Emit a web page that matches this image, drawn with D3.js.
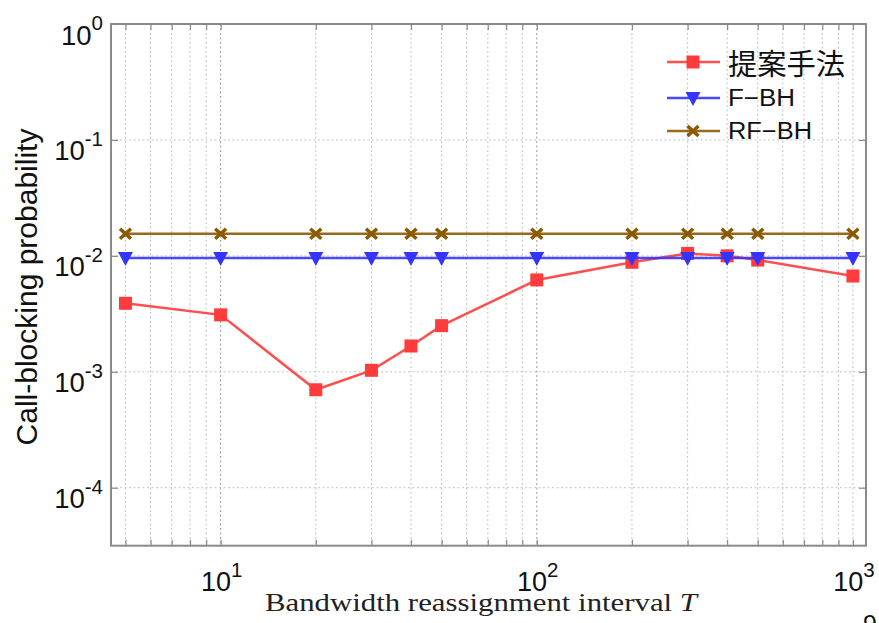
<!DOCTYPE html>
<html>
<head>
<meta charset="utf-8">
<script src="https://cdn.jsdelivr.net/npm/d3@7"></script>
<style>
  html, body { margin: 0; padding: 0; background: #fff; }
  svg { display: block; }
</style>
</head>
<body>
<svg id="chart" width="879" height="623"></svg>
<script>
// ---------------- data ----------------
const intervals = [5, 10, 20, 30, 40, 50, 100, 200, 300, 400, 500, 1000];
const proposed  = [0.0039, 0.0031, 0.00070, 0.00103, 0.00167, 0.0025, 0.0062, 0.0088, 0.0105, 0.0100, 0.0092, 0.0067];
const fbh       = [0.0096, 0.0096, 0.0096, 0.0096, 0.0096, 0.0096, 0.0096, 0.0096, 0.0096, 0.0096, 0.0096, 0.0096];
const rfbh      = [0.0155, 0.0155, 0.0155, 0.0155, 0.0155, 0.0155, 0.0155, 0.0155, 0.0155, 0.0155, 0.0155, 0.0155];
const seriesNames = ["提案手法", "F\u2212BH", "RF\u2212BH"];
const xTickExps = [1, 2, 3];
const yTickExps = [0, -1, -2, -3, -4];
const xLabel = "Bandwidth reassignment interval ";
const xLabelVar = "T";
const yLabel = "Call-blocking probability";

// ---------------- layout ----------------
const L = 111, R = 866, T = 24, B = 545.7;
const svg = d3.select("#chart");
const x = d3.scaleLog().domain([4.5, 1100]).range([L, R]);
const y = d3.scaleLog().domain([Math.pow(10, -4.5), 1]).range([B, T]);

const sans = "Liberation Sans, Arial, Helvetica, sans-serif";
const gridColor = "#c2c2c2";
const axisColor = "#8a8a8a";

// x ticks (major + minor)
const xTicks = [];
[1, 10, 100, 1000].forEach(d => { for (let k = 1; k < 10; k++) { const v = d * k; if (v >= 4.5 && v <= 1100) xTicks.push(v); } });
const yMajor = yTickExps.map(e => Math.pow(10, e));

// grid
const grid = svg.append("g");
grid.selectAll("line.vx").data(xTicks).enter().append("line")
  .attr("x1", d => x(d)).attr("x2", d => x(d)).attr("y1", T).attr("y2", B)
  .attr("stroke", d => [10, 100].includes(d) ? "#9a9a9a" : gridColor)
  .attr("stroke-width", 1).attr("stroke-dasharray", "2,2.5");
grid.selectAll("line.hy").data(yMajor).enter().append("line")
  .attr("x1", L).attr("x2", R).attr("y1", d => y(d)).attr("y2", d => y(d))
  .attr("stroke", gridColor).attr("stroke-width", 1).attr("stroke-dasharray", "2,2.5");

// axes via d3 (inward ticks, no labels)
const axB = d3.axisBottom(x).tickValues(xTicks).tickSize(-6).tickFormat("");
const axT = d3.axisTop(x).tickValues(xTicks).tickSize(-6).tickFormat("");
const axL = d3.axisLeft(y).tickValues(yMajor).tickSize(-7).tickFormat("");
const axR = d3.axisRight(y).tickValues(yMajor).tickSize(-7).tickFormat("");
[[axB, `translate(0,${B})`], [axT, `translate(0,${T})`], [axL, `translate(${L},0)`], [axR, `translate(${R},0)`]].forEach(([ax, tr]) => {
  const g = svg.append("g").attr("transform", tr).call(ax);
  g.select(".domain").remove();
  g.selectAll(".tick line").attr("stroke", axisColor).attr("stroke-width", 1.2);
});
svg.append("rect").attr("x", L).attr("y", T).attr("width", R - L).attr("height", B - T)
  .attr("fill", "none").attr("stroke", axisColor).attr("stroke-width", 2);

// y tick labels
const yl = svg.append("g");
yTickExps.forEach(e => {
  const t = yl.append("text").attr("x", 103).attr("y", y(Math.pow(10, e)) + 20.5)
    .attr("text-anchor", "end").attr("font-family", sans).attr("font-size", 27.5).attr("fill", "#111");
  t.append("tspan").text("10");
  t.append("tspan").attr("dy", -14.5).attr("font-size", 20.5).text(e === 0 ? "0" : "-" + Math.abs(e));
});
// x tick labels
xTickExps.forEach(e => {
  const t = svg.append("text").attr("x", x(Math.pow(10, e)) + 1).attr("y", 591)
    .attr("text-anchor", "middle").attr("font-family", sans).attr("font-size", 27).attr("fill", "#111");
  t.append("tspan").text("10");
  t.append("tspan").attr("dy", -14).attr("font-size", 20.5).text(String(e));
});

// axis titles
const xl = svg.append("text").attr("x", 265).attr("y", 611)
  .attr("font-family", "Liberation Serif, Times New Roman, serif").attr("font-size", 25.5).attr("fill", "#222")
  .attr("textLength", 432).attr("lengthAdjust", "spacingAndGlyphs");
xl.append("tspan").text(xLabel);
xl.append("tspan").attr("font-style", "italic").text(xLabelVar);

svg.append("text").attr("transform", "translate(37,287) rotate(-90)")
  .attr("text-anchor", "middle").attr("font-family", sans).attr("font-size", 30).attr("fill", "#111")
  .text(yLabel);

// partial page number at bottom-right
svg.append("text").attr("x", 870).attr("y", 633).attr("text-anchor", "middle")
  .attr("font-family", sans).attr("font-size", 25).attr("fill", "#111").text("9");

// ---------------- series ----------------
const series = [
  { name: seriesNames[0], values: proposed, color: "#ff3b3b", marker: "square" },
  { name: seriesNames[1], values: fbh, color: "#3434ff", marker: "tri" },
  { name: seriesNames[2], values: rfbh, color: "#8b5a00", marker: "cross" }
];
const line = d3.line().x(d => x(d[0])).y(d => y(d[1]));

function drawMarker(g, kind, color) {
  if (kind === "square") {
    g.append("rect").attr("x", -6.5).attr("y", -6.5).attr("width", 13).attr("height", 13).attr("fill", color);
  } else if (kind === "tri") {
    g.append("path").attr("d", "M-7.5,-6 L7.5,-6 L0,8 Z").attr("fill", color);
  } else {
    g.append("path").attr("d", "M-5.5,-5 L5.5,5 M-5.5,5 L5.5,-5").attr("stroke", color)
      .attr("stroke-width", 3.5).attr("fill", "none");
  }
}

series.forEach(s => {
  const pts = intervals.map((v, i) => [v, s.values[i]]);
  svg.append("path").datum(pts).attr("d", line).attr("fill", "none")
    .attr("stroke", s.color).attr("stroke-width", 2.5).attr("stroke-opacity", 0.9);
  pts.forEach(p => {
    const g = svg.append("g").attr("transform", `translate(${x(p[0])},${y(p[1])})`);
    drawMarker(g, s.marker, s.color);
  });
});

// ---------------- legend ----------------
const legRows = [62, 98, 131];
const legBase = [75, 106, 139];
series.forEach((s, i) => {
  const ly = legRows[i];
  svg.append("line").attr("x1", 667).attr("x2", 720).attr("y1", ly).attr("y2", ly)
    .attr("stroke", s.color).attr("stroke-width", 2.5).attr("stroke-opacity", 0.9);
  const g = svg.append("g").attr("transform", `translate(693,${ly})`);
  drawMarker(g, s.marker, s.color);
  svg.append("text").attr("x", 728).attr("y", legBase[i])
    .attr("font-family", i === 0 ? "Noto Sans CJK JP, sans-serif" : sans)
    .attr("font-size", i === 0 ? 29 : 23.5).attr("fill", "#111")
    .attr("textLength", i === 0 ? 117 : (i === 1 ? 67 : 84)).attr("lengthAdjust", "spacingAndGlyphs")
    .text(s.name);
});
</script>
</body>
</html>
